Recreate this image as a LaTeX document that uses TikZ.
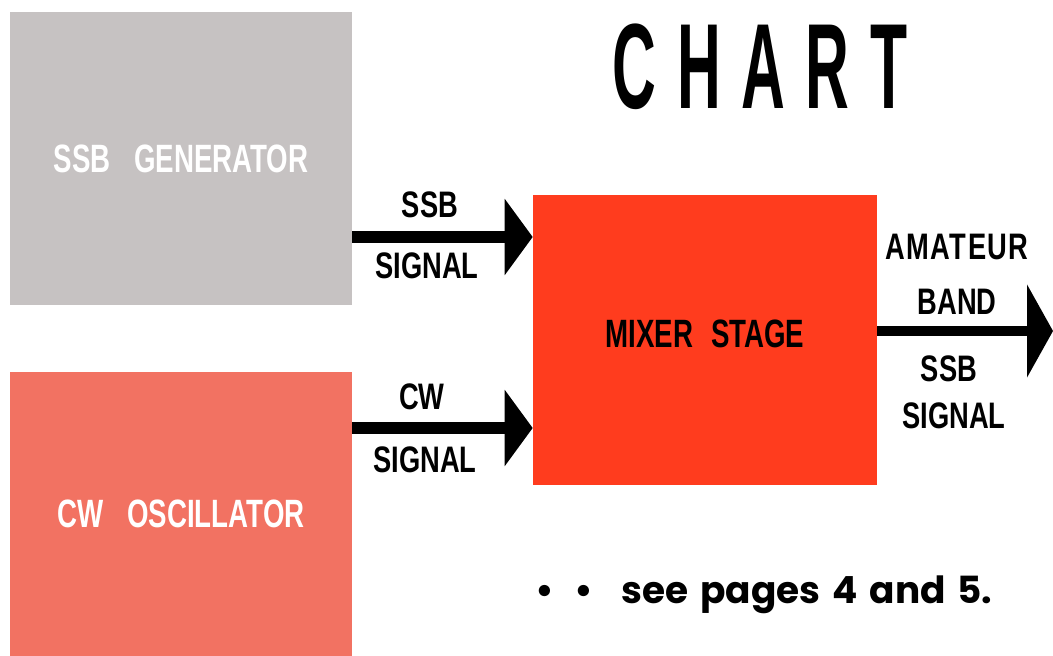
\documentclass[tikz,border=0pt]{standalone}
\usepackage{fontspec}
\usetikzlibrary{arrows.meta,positioning}
\newfontfamily\blockfont[FakeStretch=0.74]{Liberation Sans}
\newfontfamily\boxfont[FakeStretch=0.7]{Liberation Sans}
\newfontfamily\titlefont[FakeStretch=0.5]{Liberation Sans}
\newfontfamily\notefont[WordSpace=1.5]{Poppins}
\definecolor{gengray}{HTML}{C6C2C2}
\definecolor{oscpink}{HTML}{F27262}
\definecolor{mixred}{HTML}{FF3C1E}

\begin{document}
\begin{tikzpicture}[
  x=0.02cm, y=-0.02cm,
  block/.style={inner sep=0pt, minimum width=6.84cm, align=center,
                font=\boxfont\bfseries\fontsize{22.5}{26}\selectfont},
  sig/.style={-{Triangle[length=0.56cm, width=1.5cm]}, line width=0.24cm},
  lbl/.style={inner sep=0pt, font=\blockfont\bfseries\fontsize{21}{25}\selectfont}
]
\useasboundingbox (0,0) rectangle (1053,655);

\node[block, fill=gengray, text=white, minimum height=5.86cm] (gen) at (181,158.5) {SSB\hspace{0.6em}GENERATOR};
\node[block, fill=oscpink, text=white, minimum height=5.68cm, below=1.32cm of gen] (osc) {CW\hspace{0.6em}OSCILLATOR};
\node[block, fill=mixred, minimum width=6.88cm, minimum height=5.8cm, text depth=0.24cm] (mix) at (705,340) {MIXER\hspace{0.45em}STAGE};

\node[font=\titlefont\bfseries\fontsize{69}{80}\selectfont, inner sep=0pt] (title) at (760,66.5)
  {\addfontfeature{LetterSpace=17}CHART};

\coordinate (ssbin) at (mix.west |- 0,237);
\coordinate (cwin) at (mix.west |- 0,428);
\coordinate (bandout) at (1053,331);

\draw[sig] (gen.east |- ssbin) -- (ssbin);
\draw[sig] (osc.east |- cwin) -- (cwin);
\draw[sig, line width=0.2cm, -{Triangle[length=0.52cm, width=1.84cm]}] (mix.east |- bandout) -- (bandout);

\node[lbl] (ssbup) at (430,205) {SSB};
\node[lbl] (ssbdown) at (427,266) {SIGNAL};
\node[lbl] (cwup) at (422,397) {CW};
\node[lbl] (cwdown) at (425,460) {SIGNAL};
\node[lbl] (outa) at (957,247) {\addfontfeature{LetterSpace=4}AMATEUR};
\node[lbl] (outb) at (957,302) {BAND};
\node[lbl] (outc) at (949,369) {SSB};
\node[lbl] (outd) at (954,416) {SIGNAL};

\node[anchor=base west, inner sep=0pt, font=\notefont\bfseries\fontsize{21.3}{26}\selectfont] (note) at (535,603)
  {\textbullet\hspace{0.55em}\textbullet\hspace{0.75em}see pages 4 and 5.};
\end{tikzpicture}
\end{document}
